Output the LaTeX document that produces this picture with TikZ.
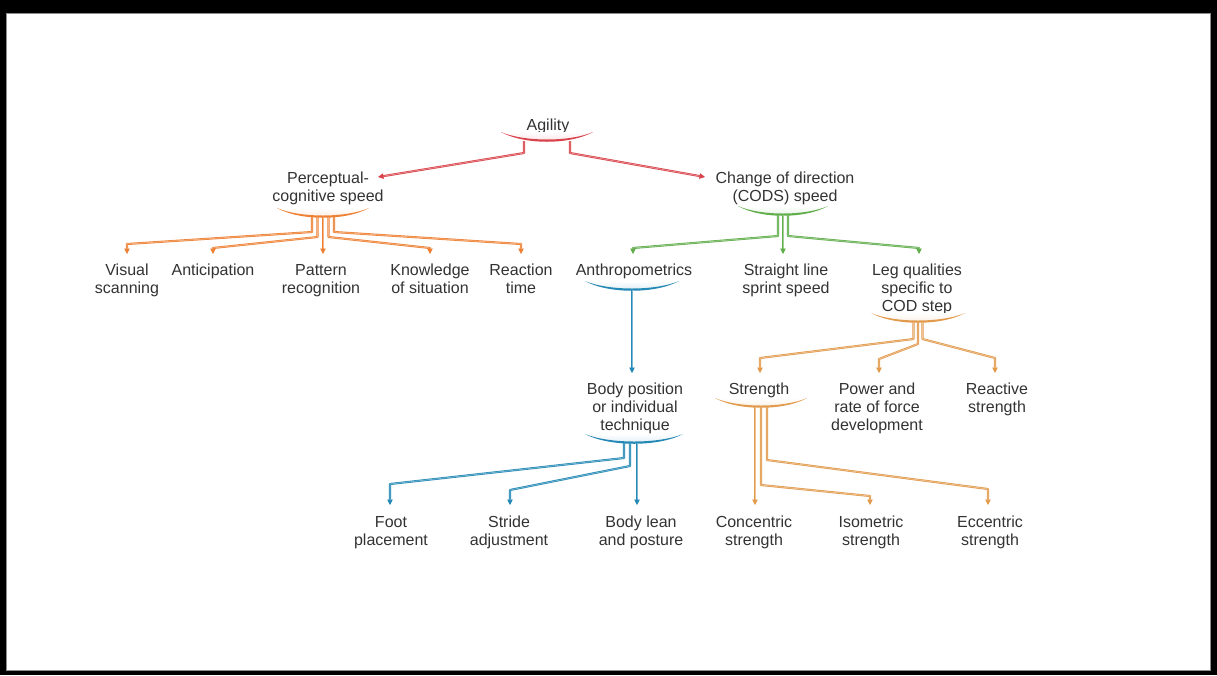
\documentclass[tikz,border=0pt]{standalone}
\usepackage{fontspec}
\setmainfont{Liberation Sans}
\usetikzlibrary{arrows.meta,calc}

\definecolor{txt}{HTML}{333333}
\definecolor{cRed}{HTML}{D9444C}
\definecolor{cOra}{HTML}{EE8134}
\definecolor{cGrn}{HTML}{62AE4C}
\definecolor{cBlu}{HTML}{2489B6}
\definecolor{cTan}{HTML}{E29A4C}

% bowl under a heading: centre x, end y, half width, colour
\newcommand\bowl[4]{%
  \shade[top color=white,bottom color=#4!16]
    (#1-#3,#2) .. controls (#1-#3/2,#2+10) and (#1+#3/2,#2+10) .. (#1+#3,#2) -- cycle;
  \fill[#4]
    (#1-#3,#2) .. controls (#1-#3/2,#2+13) and (#1+#3/2,#2+13) .. (#1+#3,#2)
    .. controls (#1+#3/2,#2+10) and (#1-#3/2,#2+10) .. cycle;
}

\tikzset{
  lbl/.style={font=\fontsize{16}{18}\selectfont, text=txt, align=center,
              inner sep=0pt, anchor=north},
  conn/.style={draw=#1, double=#1!60!white, line width=0.7pt, double distance=0.7pt,
               line join=round, -{Triangle[length=5.5pt,width=5.5pt]}},
}

\begin{document}
\begin{tikzpicture}[x=1pt,y=-1pt]
\useasboundingbox (0,0) rectangle (1217,675);

% frame
\fill[black] (0,0) rectangle (1217,675);
\fill[white] (6,13) rectangle (1211,671);
\draw[black!45,line width=0.8pt] (6.4,13.4) rectangle (1210.6,670.6);

% headings
\node[lbl] (agil) at (548,119) {Agility};
\node[lbl] (pcs)  at (328,172) {Perceptual-\\cognitive speed};
\node[lbl] (cods) at (785,172) {Change of direction\\(CODS) speed};

% first row
\node[lbl] (vis)  at (127,264) {Visual\\scanning};
\node[lbl] (ant)  at (213,264) {Anticipation};
\node[lbl] (pat)  at (321,264) {Pattern\\recognition};
\node[lbl] (kno)  at (430,264) {Knowledge\\of situation};
\node[lbl] (rea)  at (521,264) {Reaction\\time};
\node[lbl] (anth) at (634,264) {Anthropometrics};
\node[lbl] (sls)  at (786,264) {Straight line\\sprint speed};
\node[lbl] (leg)  at (917,264) {Leg qualities\\specific to\\COD step};

% second row
\node[lbl] (bpi)  at (635,383) {Body position\\or individual\\technique};
\node[lbl] (str)  at (759,383) {Strength};
\node[lbl] (pow)  at (877,383) {Power and\\rate of force\\development};
\node[lbl] (rst)  at (997,383) {Reactive\\strength};

% third row
\node[lbl] (foot) at (391,516) {Foot\\placement};
\node[lbl] (stri) at (509,516) {Stride\\adjustment};
\node[lbl] (lean) at (641,516) {Body lean\\and posture};
\node[lbl] (conc) at (754,516) {Concentric\\strength};
\node[lbl] (iso)  at (871,516) {Isometric\\strength};
\node[lbl] (ecc)  at (990,516) {Eccentric\\strength};

% bowls and their hubs
\bowl{547}{132}{46}{cRed} \coordinate (agil-b) at (547,141);
\bowl{323}{208}{46}{cOra} \coordinate (pcs-b)  at (323,217);
\bowl{783}{206}{45}{cGrn} \coordinate (cods-b) at (783,215);
\bowl{632}{281}{47}{cBlu} \coordinate (anth-b) at (632,290);
\bowl{918}{313}{47}{cTan} \coordinate (leg-b)  at (918,322);
\bowl{634}{434}{49}{cBlu} \coordinate (bpi-b)  at (634,443);
\bowl{761}{398}{46}{cTan} \coordinate (str-b)  at (761,407);

% Agility
\draw[conn=cRed] ($(agil-b)+(-23,0)$) -- ++(0,12) -- ($(pcs.north)+(50,5)$);
\draw[conn=cRed] ($(agil-b)+(23,0)$)  -- ++(0,12) -- ($(cods.north)+(-80,5)$);

% Perceptual-cognitive speed
\draw[conn=cOra] ($(pcs-b)+(-11,0)$) -- ++(0,15) -- ($(vis.north)+(0,-20)$) -- ($(vis.north)+(0,-10)$);
\draw[conn=cOra] ($(pcs-b)+(-5.5,0)$) -- ++(0,20) -- ($(ant.north)+(0,-16)$) -- ($(ant.north)+(0,-10)$);
\draw[conn=cOra] (pcs-b) -- ($(pcs-b |- pat.north)+(0,-10)$);
\draw[conn=cOra] ($(pcs-b)+(5.5,0)$) -- ++(0,20) -- ($(kno.north)+(0,-16)$) -- ($(kno.north)+(0,-10)$);
\draw[conn=cOra] ($(pcs-b)+(11,0)$) -- ++(0,15) -- ($(rea.north)+(0,-20)$) -- ($(rea.north)+(0,-10)$);

% Change of direction speed
\draw[conn=cGrn] ($(cods-b)+(-5,0)$) -- ++(0,21) -- ($(anth.north)+(-1,-16)$) -- ($(anth.north)+(-1,-10)$);
\draw[conn=cGrn] (cods-b) -- ($(cods-b |- sls.north)+(0,-10)$);
\draw[conn=cGrn] ($(cods-b)+(5,0)$) -- ++(0,21) -- ($(leg.north)+(2,-16)$) -- ($(leg.north)+(2,-10)$);

% Anthropometrics
\draw[conn=cBlu] (anth-b) -- ($(anth-b |- bpi.north)+(0,-10)$);

% Leg qualities
\draw[conn=cTan] ($(leg-b)+(-4.5,0)$) -- ++(0,17) -- ($(str.north)+(1,-25)$) -- ($(str.north)+(1,-10)$);
\draw[conn=cTan] (leg-b) -- ++(0,22) -- ($(pow.north)+(2,-24)$) -- ($(pow.north)+(2,-10)$);
\draw[conn=cTan] ($(leg-b)+(4.5,0)$) -- ++(0,17) -- ($(rst.north)+(-2,-25)$) -- ($(rst.north)+(-2,-10)$);

% Body position
\draw[conn=cBlu] ($(bpi-b)+(-10,0)$) -- ++(0,15) -- ($(foot.north)+(-1,-32)$) -- ($(foot.north)+(-1,-11)$);
\draw[conn=cBlu] ($(bpi-b)+(-4,0)$) -- ++(0,23) -- ($(stri.north)+(1,-26)$) -- ($(stri.north)+(1,-11)$);
\draw[conn=cBlu] ($(bpi-b)+(3,0)$) -- ($(bpi-b |- lean.north)+(3,-11)$);

% Strength
\draw[conn=cTan] ($(str-b)+(-6,0)$) -- ($(str-b |- conc.north)+(-6,-11)$);
\draw[conn=cTan] (str-b) -- ++(0,78) -- ($(iso.north)+(-1,-20)$) -- ($(iso.north)+(-1,-11)$);
\draw[conn=cTan] ($(str-b)+(6,0)$) -- ++(0,53) -- ($(ecc.north)+(-2,-27)$) -- ($(ecc.north)+(-2,-11)$);
\end{tikzpicture}
\end{document}
